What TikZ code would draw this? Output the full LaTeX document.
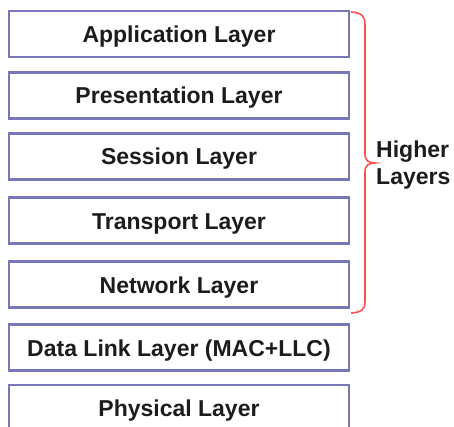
\documentclass[tikz,border=0pt]{standalone}
\usepackage{fontspec}
\setmainfont{Liberation Sans}
\definecolor{layerc}{RGB}{120,120,184}
\definecolor{bracered}{RGB}{255,80,80}
\definecolor{txt}{RGB}{28,28,28}
\begin{document}
\begin{tikzpicture}[x=1pt,y=1pt,
  layer/.style={draw=layerc, line width=2.2pt, minimum width=340pt, minimum height=46pt,
    inner sep=0pt, text height=17pt, text depth=0pt,
    font=\fontsize{23}{27}\selectfont\bfseries, text=txt},
  bracec/.style={draw=bracered, line width=1.6pt},
  lbl/.style={anchor=base west, inner sep=0pt, font=\fontsize{23}{27}\selectfont\bfseries, text=txt}
]
\useasboundingbox (0,0) rectangle (454,426);
\node[layer] (app) at (179,392) {Application Layer};
\node[layer] (pre) at (179,330.5) {Presentation Layer};
\node[layer] (ses) at (179,269.5) {Session Layer};
\node[layer] (tra) at (179,205.5) {Transport Layer};
\node[layer] (net) at (179,141.5) {Network Layer};
\node[layer] (dll) at (179,78.5) {Data Link Layer (MAC+LLC)};
\node[layer] (phy) at (179,18) {Physical Layer};
\coordinate (bt) at ([xshift=1pt,yshift=-2pt]app.north east);
\coordinate (bb) at ([xshift=1pt,yshift=-4.5pt]net.south east);
\draw[bracec] (bt) .. controls (362,413) and (365,410) .. (365,401) -- (365,272)
  .. controls (365,265) and (369,263) .. (375,263)
  .. controls (369,263) and (365,261) .. (365,254) -- (365,124)
  .. controls (365,116) and (361,114) .. (bb);
\node[lbl] (hi1) at (376,268) {Higher};
\node[lbl] (hi2) at (376,241) {Layers};
\end{tikzpicture}
\end{document}
